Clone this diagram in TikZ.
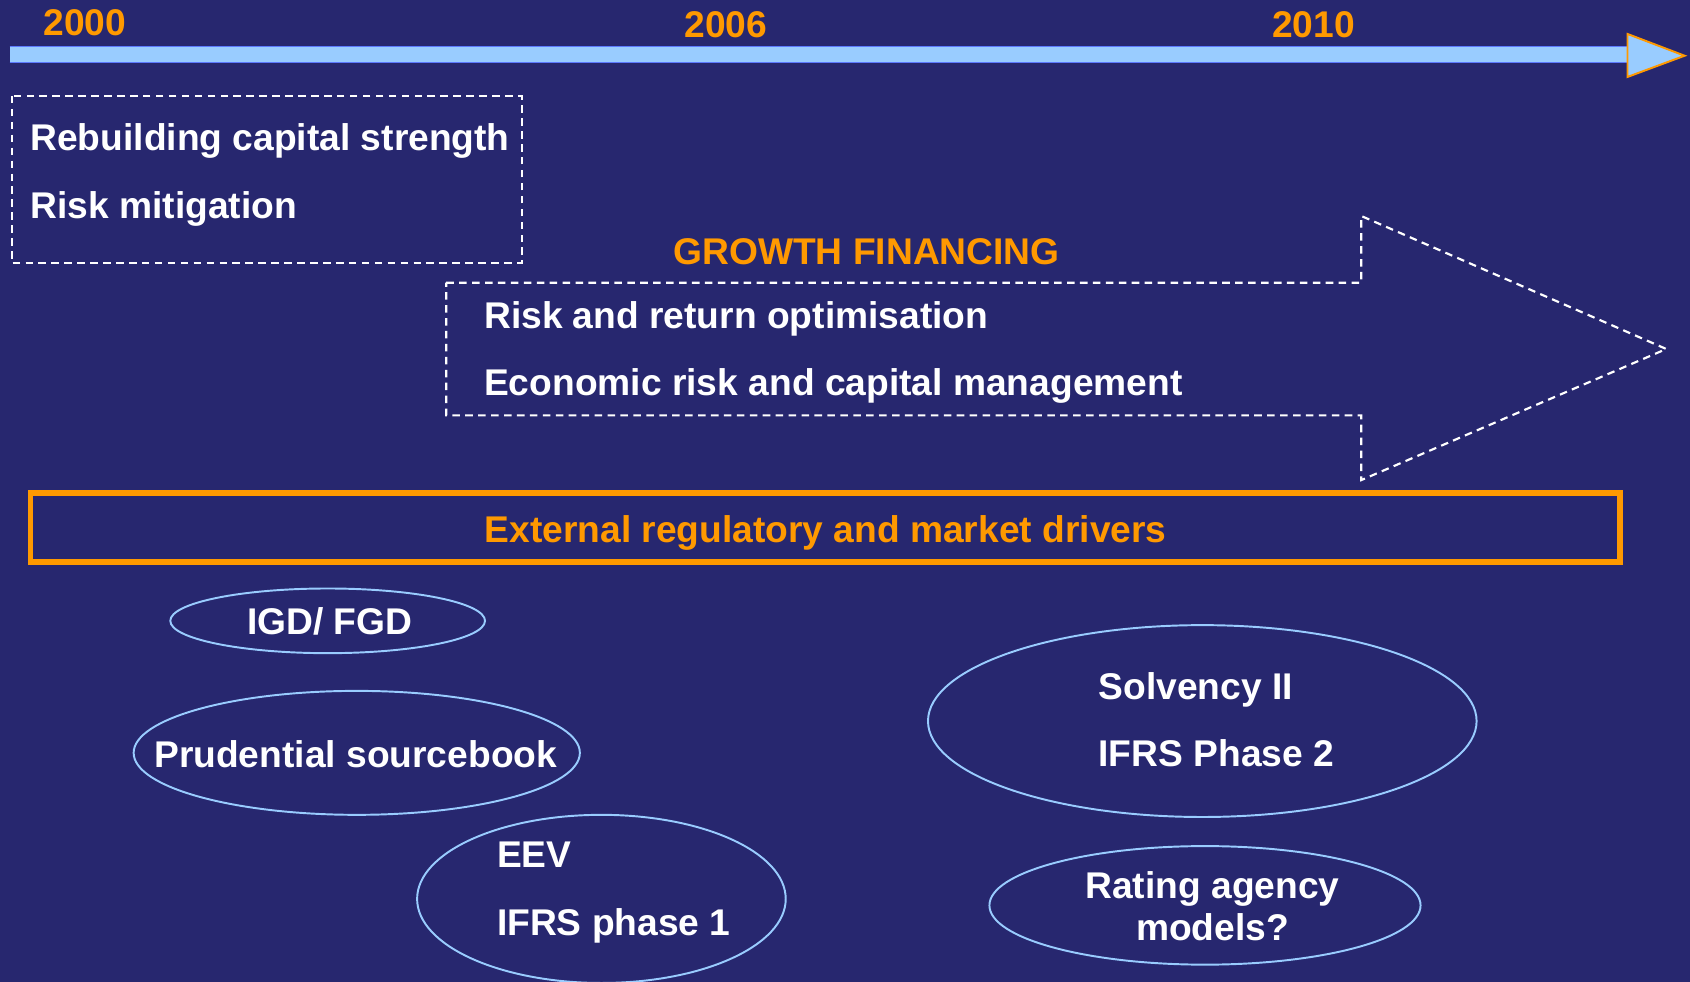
\documentclass[tikz,border=0pt]{standalone}
\usepackage{fontspec}
\setmainfont{Liberation Sans}
\usetikzlibrary{shapes.geometric}
\definecolor{bg}{RGB}{39,39,111}
\definecolor{orng}{RGB}{255,153,0}
\definecolor{lblue}{RGB}{153,204,255}
\tikzset{
  txt/.style={text=white, font=\fontsize{34.5}{40}\selectfont\bfseries, inner sep=0pt, anchor=base west},
  otxt/.style={txt, text=orng},
  dashline/.style={draw=white, line width=2pt, dash pattern=on 7pt off 5pt},
  ell/.style={ellipse, draw=lblue, line width=1.8pt, inner sep=0pt},
}
\begin{document}
\begin{tikzpicture}[x=1pt,y=-1pt]
\useasboundingbox (0,0) rectangle (1568,911);
\fill[bg] (0,0) rectangle (1568,911);
% timeline
\fill[lblue] (9,42.7) rectangle (1511,57.5);
\draw[blue!40!lblue, line width=0.6pt] (9,42.7) -- (1511,42.7) (9,57.5) -- (1511,57.5);
\draw[fill=lblue, draw=orng, line width=1.8pt, line join=miter] (1510,31.5) -- (1563,51.7) -- (1510,71.4) -- cycle;
\node[otxt, anchor=base west] (y2000) at (40,33) {2000};
\node[otxt, anchor=base west] (y2006) at (635,35) {2006};
\node[otxt, anchor=base west] (y2010) at (1180,35) {2010};
% box 1
\draw[dashline] (11,89) rectangle (484,244.3);
\node[txt] (rebuild) at (28,140) {Rebuilding capital strength};
\node[txt] (riskmit) at (28,202.6) {Risk mitigation};
% growth arrow
\node[otxt, anchor=base] (growth) at (804,245) {GROWTH FINANCING};
\draw[dashline, line join=miter] (414,262.3) -- (1263,262.3) -- (1263,200.4) -- (1546,323.8) -- (1263,445.4) -- (1263,385.4) -- (414,385.4) -- cycle;
\node[txt] (riskret) at (449,305) {Risk and return optimisation};
\node[txt] (econ) at (449,367) {Economic risk and capital management};
% external drivers box
\draw[orng, line width=5pt] (28.5,457.5) rectangle (1503,521.5);
\node[otxt, anchor=base] (ext) at (766,503) {External regulatory and market drivers};
% ellipses
\node[ell, minimum width=292pt, minimum height=60pt] (igd) at (304,576) {};
\node[txt, anchor=base] (igdt) at (306,589) {IGD/ FGD};
\node[ell, minimum width=414pt, minimum height=115pt] (prud) at (331,698.5) {};
\node[txt, anchor=base] (prudt) at (330,712) {Prudential sourcebook};
\node[ell, minimum width=342pt, minimum height=156pt] (eev) at (558,834) {};
\node[txt] (eevt) at (461,805) {EEV};
\node[txt] (ifrs1) at (461,868) {IFRS phase 1};
\node[ell, minimum width=509pt, minimum height=178pt] (solv) at (1115.5,669) {};
\node[txt] (solvt) at (1019,649) {Solvency II};
\node[txt] (ifrs2) at (1019,711) {IFRS Phase 2};
\node[ell, minimum width=400pt, minimum height=110pt] (rating) at (1118,840) {};
\node[txt, anchor=base] (rat1) at (1125,834) {Rating agency};
\node[txt, anchor=base] (rat2) at (1125,873) {models?};
\end{tikzpicture}
\end{document}
